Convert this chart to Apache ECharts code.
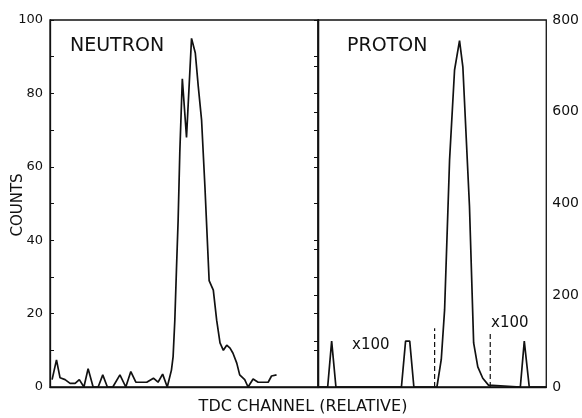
<!DOCTYPE html>
<html>
<head>
<meta charset="utf-8">
<script src="https://cdn.jsdelivr.net/npm/echarts@6/dist/echarts.min.js"></script>
<style>
  html, body { margin: 0; padding: 0; background: #fff; }
  #chart { width: 582px; height: 418px; }
</style>
</head>
<body>
<div id="chart"></div>
<script>
// Neutron time spectrum (left scale, counts per channel)
const neutronChannel = [0.5, 1.55, 2.4, 3.6, 4.8, 6.0, 7.0, 8.1, 9.1, 10.3, 11.5, 12.6, 13.7, 15.0,
  16.7, 18.1, 19.3, 20.5, 23.1, 24.7, 25.8, 26.9, 28.0, 29.0, 29.4, 29.8, 30.2, 30.6, 31.0,
  31.6, 32.6, 33.8, 34.7, 35.4, 36.2, 37.0, 38.0, 39.0, 39.8, 40.6, 41.4, 42.2, 43.0, 43.7,
  44.6, 45.3, 46.5, 47.3, 48.5, 49.7, 52.1, 52.9, 54.1];
const neutronCounts = [2, 7.4, 2.5, 2, 1, 1, 2, 0, 5, 0, 0, 3.3, 0, 0,
  3.3, 0, 4.2, 1.3, 1.3, 2.4, 1.3, 3.5, 0, 4.6, 8.3, 18, 32, 45.5, 64,
  84, 68, 95, 91, 82, 72.7, 54.5, 29, 26.4, 18.2, 12, 10, 11.4, 10.6, 9.2,
  6.5, 3.3, 2, 0, 2.2, 1.3, 1.3, 3, 3.3];

// Proton time spectrum (right scale); the side peaks are magnified x100
const protonChannel = [0, 2.33, 3.29, 4.32, 20.1, 21.1, 22.1, 23.1, 28.65, 29.7, 30.5, 31.7,
  32.9, 34.1, 34.9, 36.5, 37.5, 38.5, 39.7, 41.07, 41.4, 48.75, 49.7, 50.9, 55];
const protonCounts = [0, 0, 100, 0, 0, 100, 100, 0, 0, 60, 168, 495,
  691, 755, 698, 393, 96, 44, 19, 4, 0, 0, 100, 0, 0];

// Gate markers (dashed) around the proton peak
const gateChannel = [28.1, 41.5];
const gateHeight = [128, 120];

// Axis ranges and labelled ticks
const neutronMax = 100, neutronStep = 10, neutronLabelStep = 20;
const protonMax = 800, protonStep = 100, protonLabelStep = 200;
const channelMaxLeft = 64, channelMaxRight = 55;

const FONT = 'DejaVu Sans';
const INK = '#111';

function pairs(xs, ys) { return xs.map((x, i) => [x, ys[i]]); }

const chart = echarts.init(document.getElementById('chart'), null, { renderer: 'canvas' });

const lineStyle = { color: INK, width: 1.7 };
const axisLine = { show: true, lineStyle: { color: INK, width: 1.3 } };

chart.setOption({
  backgroundColor: '#fff',
  animation: false,
  grid: [
    { left: 50, top: 20, width: 268, height: 367, show: true, borderColor: INK, borderWidth: 1.3, backgroundColor: 'transparent' },
    { left: 318, top: 20, width: 229, height: 367, show: true, borderColor: INK, borderWidth: 1.3, backgroundColor: 'transparent' }
  ],
  xAxis: [
    { gridIndex: 0, type: 'value', min: 0, max: channelMaxLeft, axisLine: axisLine,
      axisTick: { show: false }, axisLabel: { show: false }, splitLine: { show: false } },
    { gridIndex: 1, type: 'value', min: 0, max: channelMaxRight, axisLine: axisLine,
      axisTick: { show: false }, axisLabel: { show: false }, splitLine: { show: false } }
  ],
  yAxis: [
    { gridIndex: 0, type: 'value', min: 0, max: neutronMax, interval: neutronStep, position: 'left',
      axisLine: axisLine, splitLine: { show: false },
      axisTick: { show: true, inside: true, length: 4, lineStyle: { color: INK, width: 1 } },
      axisLabel: { margin: 7, color: INK, fontFamily: FONT, fontSize: 13,
        formatter: v => (v % neutronLabelStep === 0 ? String(v) : '') } },
    { gridIndex: 0, type: 'value', min: 0, max: neutronMax, interval: neutronStep, position: 'right',
      axisLine: axisLine, splitLine: { show: false },
      axisTick: { show: true, inside: true, length: 4, lineStyle: { color: INK, width: 1 } },
      axisLabel: { show: false } },
    { gridIndex: 1, type: 'value', min: 0, max: protonMax, interval: protonStep, position: 'right',
      axisLine: axisLine, splitLine: { show: false },
      axisTick: { show: true, inside: true, length: 4, lineStyle: { color: INK, width: 1 } },
      axisLabel: { margin: 6, color: INK, fontFamily: FONT, fontSize: 14,
        formatter: v => (v % protonLabelStep === 0 ? String(v) : '') } }
  ],
  series: [
    { type: 'line', xAxisIndex: 0, yAxisIndex: 0, data: pairs(neutronChannel, neutronCounts),
      showSymbol: false, lineStyle: lineStyle, z: 5 },
    { type: 'line', xAxisIndex: 1, yAxisIndex: 2, data: pairs(protonChannel, protonCounts),
      showSymbol: false, lineStyle: lineStyle, z: 5 },
    ...gateChannel.map((g, i) => ({
      type: 'line', xAxisIndex: 1, yAxisIndex: 2, data: [[g, 0], [g, gateHeight[i]]],
      showSymbol: false, lineStyle: { color: INK, width: 1.2, type: [5, 3] }, z: 4
    }))
  ],
  graphic: [
    { type: 'text', left: 70, top: 37, style: { text: 'NEUTRON', font: '19px "DejaVu Sans"', fill: INK } },
    { type: 'text', left: 347, top: 37, style: { text: 'PROTON', font: '19px "DejaVu Sans"', fill: INK } },
    { type: 'text', left: 352, top: 338, style: { text: 'x100', font: '15px "DejaVu Sans"', fill: INK } },
    { type: 'text', left: 491, top: 316, style: { text: 'x100', font: '15px "DejaVu Sans"', fill: INK } },
    { type: 'text', x: 18, y: 205, rotation: Math.PI / 2,
      style: { text: 'COUNTS', font: '15px "DejaVu Sans"', fill: INK, letterSpacing: 1.5,
        align: 'center', verticalAlign: 'middle' } },
    { type: 'text', x: 303, y: 407,
      style: { text: 'TDC CHANNEL (RELATIVE)', font: '16px "DejaVu Sans"', fill: INK, letterSpacing: 2.6,
        align: 'center', verticalAlign: 'middle' } }
  ]
});
</script>
</body>
</html>
